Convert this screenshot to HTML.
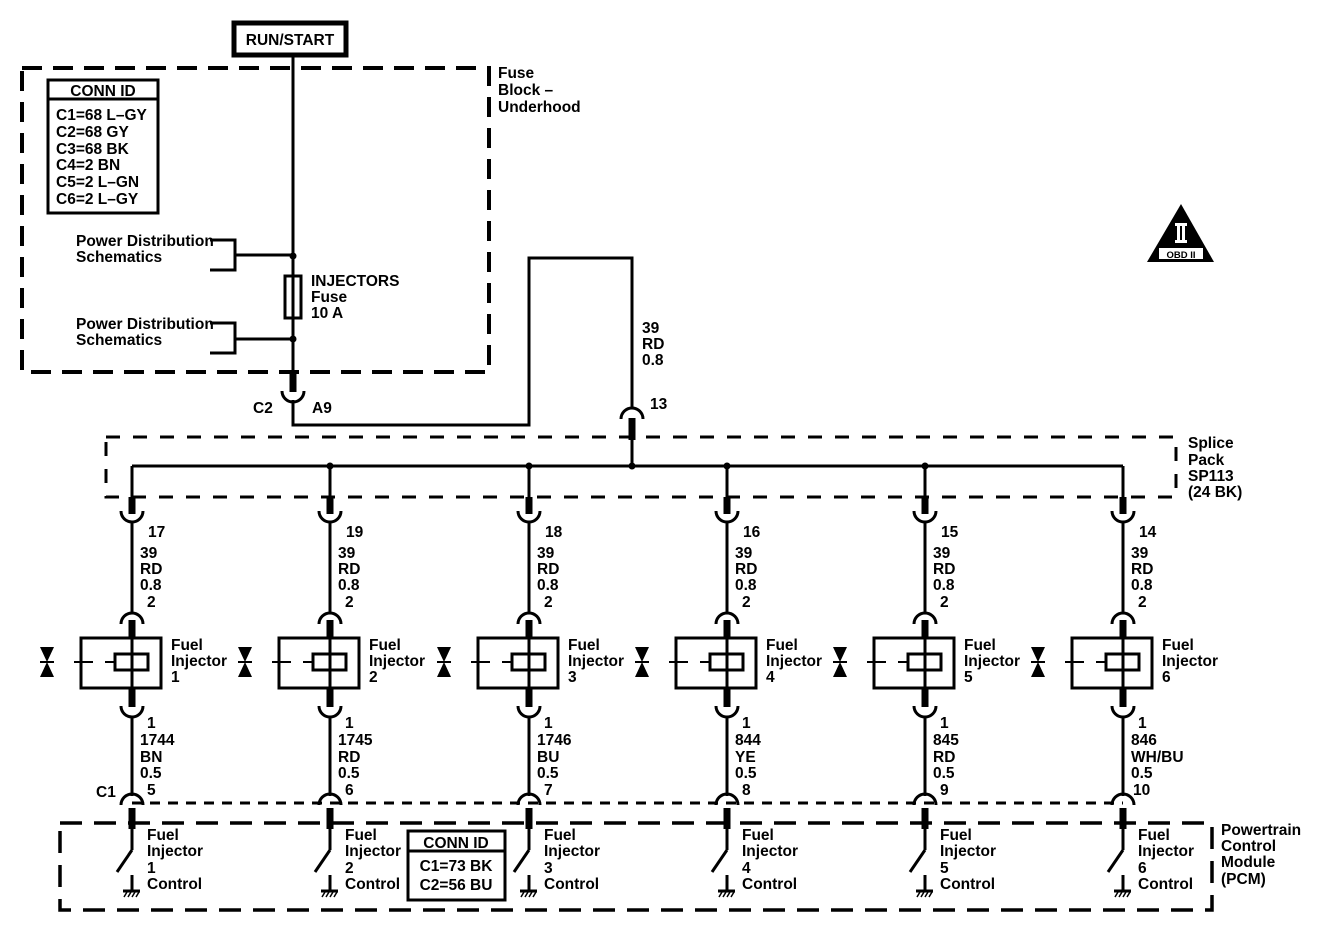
<!DOCTYPE html>
<html><head><meta charset="utf-8"><style>
html,body{margin:0;padding:0;background:#fff}
svg{display:block}
text{font-family:"Liberation Sans",Arial,sans-serif;font-size:15.5px;font-weight:bold;fill:#000}
</style></head><body>
<svg width="1328" height="932" viewBox="0 0 1328 932" xmlns="http://www.w3.org/2000/svg">
<defs>
<g id="col" fill="none" stroke="#000">
  <line x1="0" y1="466" x2="0" y2="497" stroke-width="3"/>
  <line x1="0" y1="497" x2="0" y2="514" stroke-width="7"/>
  <path d="M-11,511 A11,11 0 0 0 11,511" stroke-width="3"/>
  <line x1="0" y1="522" x2="0" y2="613" stroke-width="3"/>
  <path d="M-11,624 A11,11 0 0 1 11,624" stroke-width="3"/>
  <line x1="0" y1="620" x2="0" y2="637" stroke-width="7"/>
  <rect x="-51" y="638" width="80" height="50" stroke-width="3"/>
  <rect x="-17" y="654" width="33" height="16" stroke-width="3"/>
  <line x1="0" y1="637" x2="0" y2="688" stroke-width="3"/>
  <line x1="-58" y1="662" x2="-39" y2="662" stroke-width="2"/>
  <line x1="-27" y1="662" x2="-17" y2="662" stroke-width="2"/>
  <line x1="-92" y1="662" x2="-78" y2="662" stroke-width="2"/>
  <path d="M-92,647 L-78,647 L-85,662 Z M-92,677 L-78,677 L-85,662 Z" fill="#000" stroke="none"/>
  <line x1="0" y1="688" x2="0" y2="707" stroke-width="7"/>
  <path d="M-11,706 A11,11 0 0 0 11,706" stroke-width="3"/>
  <line x1="0" y1="716" x2="0" y2="796" stroke-width="3"/>
  <path d="M-11,805 A11,11 0 0 1 11,805" stroke-width="3"/>
  <line x1="0" y1="808" x2="0" y2="829" stroke-width="7"/>
  <line x1="0" y1="829" x2="0" y2="850" stroke-width="3"/>
  <line x1="0" y1="850" x2="-15" y2="872" stroke-width="3"/>
  <line x1="0" y1="875" x2="0" y2="891" stroke-width="3"/>
  <line x1="-9" y1="891" x2="8" y2="891" stroke-width="3"/>
  <path d="M-8,897 l3,-5 M-4,897 l3,-5 M0,897 l3,-5 M4,897 l3,-5" stroke-width="1.5"/>
</g>
</defs>

<rect x="234" y="23" width="112" height="32" fill="#fff" stroke="#000" stroke-width="5"/>
<text x="290" y="45" text-anchor="middle">RUN/START</text>

<rect x="22" y="68" width="467" height="304" fill="none" stroke="#000" stroke-width="4" stroke-dasharray="20 11"/>
<text x="498" y="78">Fuse</text>
<text x="498" y="95">Block –</text>
<text x="498" y="112">Underhood</text>

<rect x="48" y="80" width="110" height="133" fill="#fff" stroke="#000" stroke-width="3"/>
<line x1="48" y1="99" x2="158" y2="99" stroke="#000" stroke-width="3"/>
<text x="103" y="96" text-anchor="middle">CONN ID</text>
<text x="56" y="120">C1=68 L–GY</text>
<text x="56" y="137">C2=68 GY</text>
<text x="56" y="154">C3=68 BK</text>
<text x="56" y="170">C4=2 BN</text>
<text x="56" y="187">C5=2 L–GN</text>
<text x="56" y="204">C6=2 L–GY</text>

<g fill="none" stroke="#000" stroke-width="3">
<line x1="293" y1="57" x2="293" y2="372"/>
<rect x="285" y="276" width="16" height="42"/>
<path d="M210,240 h25 v30 h-25 M235,255 h58"/>
<path d="M210,323 h25 v30 h-25 M235,339 h58"/>
</g>
<circle cx="293" cy="256" r="3.5"/><circle cx="293" cy="339" r="3.5"/>
<text x="76" y="246">Power Distribution</text>
<text x="76" y="262">Schematics</text>
<text x="76" y="329">Power Distribution</text>
<text x="76" y="345">Schematics</text>
<text x="311" y="286">INJECTORS</text>
<text x="311" y="302">Fuse</text>
<text x="311" y="318">10 A</text>

<g fill="none" stroke="#000">
<line x1="293" y1="370" x2="293" y2="392" stroke-width="7"/>
<path d="M282,391 A11,11 0 0 0 304,391" stroke-width="3"/>
<path d="M293,400 V425 H529 V258 H632 V409" stroke-width="3"/>
<path d="M621,419 A11,11 0 0 1 643,419" stroke-width="3"/>
<line x1="632" y1="418" x2="632" y2="440" stroke-width="7"/>
<line x1="632" y1="440" x2="632" y2="466" stroke-width="3"/>
</g>
<text x="253" y="413">C2</text>
<text x="312" y="413">A9</text>
<text x="642" y="333">39</text>
<text x="642" y="349">RD</text>
<text x="642" y="365">0.8</text>
<text x="650" y="409">13</text>

<path d="M106,437 H1176 V497 H106 Z" fill="none" stroke="#000" stroke-width="3" stroke-dasharray="14 13"/>
<line x1="132" y1="466" x2="1123" y2="466" stroke="#000" stroke-width="3"/>
<circle cx="330" cy="466" r="3.5"/><circle cx="529" cy="466" r="3.5"/><circle cx="632" cy="466" r="3.5"/><circle cx="727" cy="466" r="3.5"/><circle cx="925" cy="466" r="3.5"/>
<text x="1188" y="448">Splice</text>
<text x="1188" y="465">Pack</text>
<text x="1188" y="481">SP113</text>
<text x="1188" y="497">(24 BK)</text>

<path d="M1181,204 L1214,262 L1147,262 Z" fill="#000"/>
<rect x="1175" y="223" width="12" height="3" fill="#fff"/>
<rect x="1175" y="240" width="12" height="3" fill="#fff"/>
<rect x="1177" y="225" width="3" height="16" fill="#fff"/>
<rect x="1182" y="225" width="3" height="16" fill="#fff"/>
<rect x="1159" y="248" width="44" height="11" fill="#fff"/>
<text x="1181" y="258" text-anchor="middle" style="font-size:9.5px">OBD II</text>

<line x1="132" y1="803" x2="1123" y2="803" stroke="#000" stroke-width="3" stroke-dasharray="10 8"/>
<path d="M60,823 H1212 V910 H60 Z" fill="none" stroke="#000" stroke-width="3.5" stroke-dasharray="22 12"/>
<text x="1221" y="835">Powertrain</text>
<text x="1221" y="851">Control</text>
<text x="1221" y="867">Module</text>
<text x="1221" y="884">(PCM)</text>
<rect x="408" y="831" width="97" height="69" fill="#fff" stroke="#000" stroke-width="3"/>
<line x1="408" y1="851" x2="505" y2="851" stroke="#000" stroke-width="3"/>
<text x="456" y="848" text-anchor="middle">CONN ID</text>
<text x="456" y="871" text-anchor="middle">C1=73 BK</text>
<text x="456" y="890" text-anchor="middle">C2=56 BU</text>
<text x="96" y="797">C1</text>

<use href="#col" x="132"/><use href="#col" x="330"/><use href="#col" x="529"/>
<use href="#col" x="727"/><use href="#col" x="925"/><use href="#col" x="1123"/>

<g transform="translate(132,0)">
<text x="16" y="537">17</text><text x="8" y="558">39</text><text x="8" y="574">RD</text><text x="8" y="590">0.8</text><text x="15" y="607">2</text>
<text x="39" y="650">Fuel</text><text x="39" y="666">Injector</text><text x="39" y="682">1</text>
<text x="15" y="728">1</text><text x="8" y="745">1744</text><text x="8" y="762">BN</text><text x="8" y="778">0.5</text><text x="15" y="795">5</text>
<text x="15" y="840">Fuel</text><text x="15" y="856">Injector</text><text x="15" y="873">1</text><text x="15" y="889">Control</text>
</g>
<g transform="translate(330,0)">
<text x="16" y="537">19</text><text x="8" y="558">39</text><text x="8" y="574">RD</text><text x="8" y="590">0.8</text><text x="15" y="607">2</text>
<text x="39" y="650">Fuel</text><text x="39" y="666">Injector</text><text x="39" y="682">2</text>
<text x="15" y="728">1</text><text x="8" y="745">1745</text><text x="8" y="762">RD</text><text x="8" y="778">0.5</text><text x="15" y="795">6</text>
<text x="15" y="840">Fuel</text><text x="15" y="856">Injector</text><text x="15" y="873">2</text><text x="15" y="889">Control</text>
</g>
<g transform="translate(529,0)">
<text x="16" y="537">18</text><text x="8" y="558">39</text><text x="8" y="574">RD</text><text x="8" y="590">0.8</text><text x="15" y="607">2</text>
<text x="39" y="650">Fuel</text><text x="39" y="666">Injector</text><text x="39" y="682">3</text>
<text x="15" y="728">1</text><text x="8" y="745">1746</text><text x="8" y="762">BU</text><text x="8" y="778">0.5</text><text x="15" y="795">7</text>
<text x="15" y="840">Fuel</text><text x="15" y="856">Injector</text><text x="15" y="873">3</text><text x="15" y="889">Control</text>
</g>
<g transform="translate(727,0)">
<text x="16" y="537">16</text><text x="8" y="558">39</text><text x="8" y="574">RD</text><text x="8" y="590">0.8</text><text x="15" y="607">2</text>
<text x="39" y="650">Fuel</text><text x="39" y="666">Injector</text><text x="39" y="682">4</text>
<text x="15" y="728">1</text><text x="8" y="745">844</text><text x="8" y="762">YE</text><text x="8" y="778">0.5</text><text x="15" y="795">8</text>
<text x="15" y="840">Fuel</text><text x="15" y="856">Injector</text><text x="15" y="873">4</text><text x="15" y="889">Control</text>
</g>
<g transform="translate(925,0)">
<text x="16" y="537">15</text><text x="8" y="558">39</text><text x="8" y="574">RD</text><text x="8" y="590">0.8</text><text x="15" y="607">2</text>
<text x="39" y="650">Fuel</text><text x="39" y="666">Injector</text><text x="39" y="682">5</text>
<text x="15" y="728">1</text><text x="8" y="745">845</text><text x="8" y="762">RD</text><text x="8" y="778">0.5</text><text x="15" y="795">9</text>
<text x="15" y="840">Fuel</text><text x="15" y="856">Injector</text><text x="15" y="873">5</text><text x="15" y="889">Control</text>
</g>
<g transform="translate(1123,0)">
<text x="16" y="537">14</text><text x="8" y="558">39</text><text x="8" y="574">RD</text><text x="8" y="590">0.8</text><text x="15" y="607">2</text>
<text x="39" y="650">Fuel</text><text x="39" y="666">Injector</text><text x="39" y="682">6</text>
<text x="15" y="728">1</text><text x="8" y="745">846</text><text x="8" y="762">WH/BU</text><text x="8" y="778">0.5</text><text x="10" y="795">10</text>
<text x="15" y="840">Fuel</text><text x="15" y="856">Injector</text><text x="15" y="873">6</text><text x="15" y="889">Control</text>
</g>
</svg>
</body></html>
